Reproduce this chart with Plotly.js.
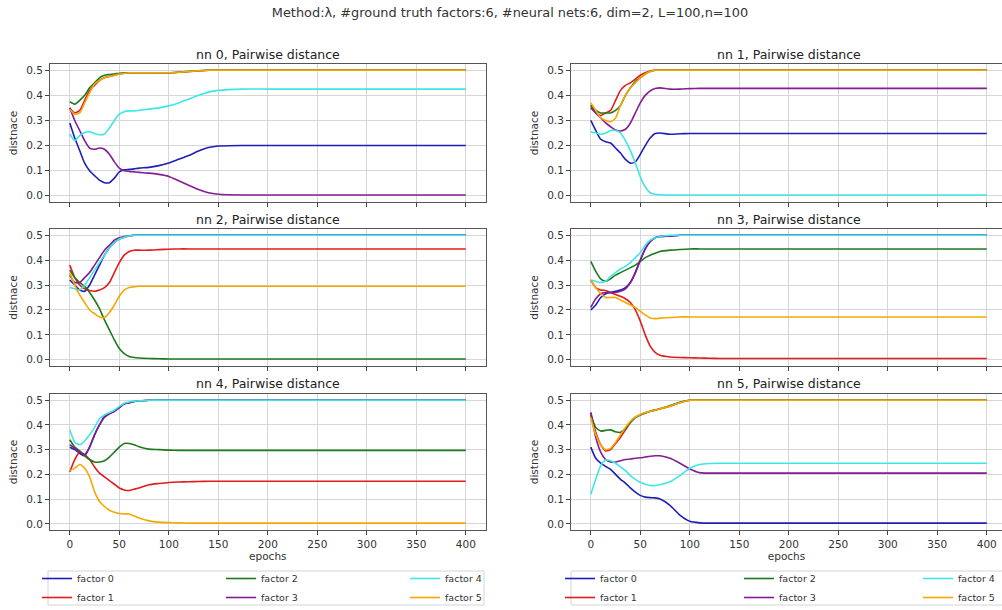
<!DOCTYPE html>
<html>
<head>
<meta charset="utf-8">
<script src="https://cdn.plot.ly/plotly-3.0.1.min.js"></script>
<style>html,body{margin:0;padding:0;background:#fff;}#chart{width:1002px;height:610px;}</style>
</head>
<body>
<div id="chart"></div>
<script>
// ---------- DATA ----------
const epochs = [0,5,10,15,20,25,30,35,40,45,50,55,60,65,70,80,90,100,110,120,130,140,150,175,200,250,300,350,400];
const factorNames = ["factor 0","factor 1","factor 2","factor 3","factor 4","factor 5"];
const subplotTitles = ["nn 0, Pairwise distance","nn 1, Pairwise distance","nn 2, Pairwise distance","nn 3, Pairwise distance","nn 4, Pairwise distance","nn 5, Pairwise distance"];
const mainTitle = "Method:λ, #ground truth factors:6, #neural nets:6, dim=2, L=100,n=100";
const xTickVals = [0,50,100,150,200,250,300,350,400];
const yTickVals = [0,0.1,0.2,0.3,0.4,0.5];

// nn 0
const nn0_factor0 = [0.29,0.23,0.18,0.13,0.10,0.08,0.062,0.052,0.052,0.07,0.095,0.103,0.105,0.107,0.11,0.113,0.12,0.13,0.145,0.16,0.178,0.192,0.198,0.2,0.2,0.2,0.2,0.2,0.2];
const nn0_factor1 = [0.35,0.33,0.34,0.38,0.42,0.44,0.46,0.47,0.475,0.48,0.485,0.488,0.49,0.49,0.49,0.49,0.49,0.49,0.492,0.495,0.498,0.5,0.5,0.5,0.5,0.5,0.5,0.5,0.5];
const nn0_factor2 = [0.375,0.365,0.38,0.40,0.43,0.45,0.47,0.48,0.483,0.485,0.488,0.49,0.49,0.49,0.49,0.49,0.49,0.49,0.492,0.495,0.498,0.5,0.5,0.5,0.5,0.5,0.5,0.5,0.5];
const nn0_factor3 = [0.35,0.30,0.26,0.22,0.19,0.185,0.19,0.185,0.165,0.135,0.11,0.10,0.097,0.095,0.093,0.09,0.085,0.077,0.06,0.042,0.025,0.012,0.006,0.003,0.003,0.003,0.003,0.003,0.003];
const nn0_factor4 = [0.245,0.22,0.24,0.252,0.255,0.248,0.243,0.246,0.27,0.30,0.325,0.335,0.338,0.338,0.34,0.345,0.35,0.358,0.37,0.385,0.40,0.413,0.42,0.425,0.425,0.425,0.425,0.425,0.425];
const nn0_factor5 = [0.345,0.325,0.33,0.37,0.41,0.445,0.46,0.47,0.475,0.48,0.485,0.488,0.49,0.49,0.49,0.49,0.49,0.49,0.492,0.495,0.498,0.5,0.5,0.5,0.5,0.5,0.5,0.5,0.5];
// nn 1
const nn1_factor0 = [0.30,0.26,0.225,0.215,0.21,0.19,0.17,0.145,0.13,0.135,0.165,0.20,0.23,0.248,0.25,0.245,0.247,0.248,0.248,0.248,0.248,0.248,0.248,0.248,0.248,0.248,0.248,0.248,0.248];
const nn1_factor1 = [0.36,0.33,0.32,0.33,0.34,0.38,0.42,0.44,0.45,0.465,0.48,0.49,0.497,0.5,0.5,0.5,0.5,0.5,0.5,0.5,0.5,0.5,0.5,0.5,0.5,0.5,0.5,0.5,0.5];
const nn1_factor2 = [0.36,0.34,0.33,0.33,0.33,0.34,0.36,0.40,0.43,0.455,0.47,0.485,0.495,0.5,0.5,0.5,0.5,0.5,0.5,0.5,0.5,0.5,0.5,0.5,0.5,0.5,0.5,0.5,0.5];
const nn1_factor3 = [0.35,0.33,0.31,0.29,0.275,0.262,0.258,0.265,0.29,0.33,0.37,0.40,0.418,0.427,0.43,0.425,0.425,0.427,0.428,0.428,0.428,0.428,0.428,0.428,0.428,0.428,0.428,0.428,0.428];
const nn1_factor4 = [0.255,0.25,0.245,0.25,0.26,0.26,0.25,0.22,0.18,0.13,0.075,0.035,0.012,0.006,0.004,0.003,0.003,0.003,0.003,0.003,0.003,0.003,0.003,0.003,0.003,0.003,0.003,0.003,0.003];
const nn1_factor5 = [0.37,0.34,0.31,0.30,0.295,0.31,0.36,0.40,0.43,0.45,0.47,0.485,0.495,0.5,0.5,0.5,0.5,0.5,0.5,0.5,0.5,0.5,0.5,0.5,0.5,0.5,0.5,0.5,0.5];
// nn 2
const nn2_factor0 = [0.32,0.30,0.28,0.275,0.30,0.34,0.38,0.42,0.45,0.47,0.485,0.492,0.497,0.5,0.5,0.5,0.5,0.5,0.5,0.5,0.5,0.5,0.5,0.5,0.5,0.5,0.5,0.5,0.5];
const nn2_factor1 = [0.38,0.33,0.30,0.285,0.278,0.275,0.28,0.29,0.31,0.35,0.39,0.42,0.435,0.44,0.44,0.44,0.442,0.444,0.445,0.445,0.445,0.445,0.445,0.445,0.445,0.445,0.445,0.445,0.445];
const nn2_factor2 = [0.36,0.33,0.31,0.295,0.27,0.24,0.205,0.16,0.12,0.08,0.045,0.025,0.013,0.009,0.007,0.005,0.004,0.003,0.003,0.003,0.003,0.003,0.003,0.003,0.003,0.003,0.003,0.003,0.003];
const nn2_factor3 = [0.34,0.31,0.31,0.33,0.35,0.38,0.41,0.44,0.46,0.48,0.49,0.495,0.498,0.5,0.5,0.5,0.5,0.5,0.5,0.5,0.5,0.5,0.5,0.5,0.5,0.5,0.5,0.5,0.5];
const nn2_factor4 = [0.29,0.285,0.28,0.30,0.33,0.36,0.39,0.42,0.45,0.47,0.485,0.492,0.497,0.5,0.5,0.5,0.5,0.5,0.5,0.5,0.5,0.5,0.5,0.5,0.5,0.5,0.5,0.5,0.5];
const nn2_factor5 = [0.35,0.30,0.26,0.23,0.20,0.185,0.172,0.17,0.19,0.22,0.255,0.28,0.29,0.293,0.295,0.295,0.295,0.295,0.295,0.295,0.295,0.295,0.295,0.295,0.295,0.295,0.295,0.295,0.295];
// nn 3
const nn3_factor0 = [0.20,0.22,0.25,0.265,0.27,0.275,0.28,0.29,0.31,0.35,0.40,0.445,0.475,0.49,0.495,0.497,0.5,0.5,0.5,0.5,0.5,0.5,0.5,0.5,0.5,0.5,0.5,0.5,0.5];
const nn3_factor1 = [0.32,0.29,0.28,0.278,0.27,0.262,0.255,0.245,0.23,0.20,0.155,0.10,0.055,0.03,0.018,0.011,0.009,0.008,0.007,0.006,0.005,0.005,0.005,0.005,0.005,0.005,0.005,0.005,0.005];
const nn3_factor2 = [0.395,0.355,0.325,0.315,0.325,0.34,0.35,0.36,0.37,0.38,0.395,0.41,0.42,0.428,0.435,0.44,0.443,0.445,0.445,0.445,0.445,0.445,0.445,0.445,0.445,0.445,0.445,0.445,0.445];
const nn3_factor3 = [0.21,0.245,0.265,0.27,0.27,0.27,0.275,0.285,0.31,0.35,0.40,0.445,0.475,0.49,0.495,0.497,0.5,0.5,0.5,0.5,0.5,0.5,0.5,0.5,0.5,0.5,0.5,0.5,0.5];
const nn3_factor4 = [0.32,0.315,0.31,0.315,0.335,0.35,0.365,0.375,0.39,0.41,0.43,0.46,0.48,0.49,0.495,0.5,0.5,0.5,0.5,0.5,0.5,0.5,0.5,0.5,0.5,0.5,0.5,0.5,0.5];
const nn3_factor5 = [0.32,0.29,0.265,0.25,0.25,0.25,0.24,0.23,0.22,0.21,0.195,0.18,0.168,0.165,0.167,0.17,0.172,0.172,0.172,0.172,0.172,0.172,0.172,0.172,0.172,0.172,0.172,0.172,0.172];
// nn 4
const nn4_factor0 = [0.31,0.30,0.285,0.275,0.31,0.36,0.40,0.435,0.445,0.455,0.47,0.485,0.49,0.495,0.497,0.5,0.5,0.5,0.5,0.5,0.5,0.5,0.5,0.5,0.5,0.5,0.5,0.5,0.5];
const nn4_factor1 = [0.21,0.26,0.29,0.28,0.26,0.23,0.205,0.19,0.175,0.16,0.145,0.137,0.135,0.14,0.145,0.158,0.163,0.167,0.169,0.17,0.171,0.172,0.172,0.172,0.172,0.172,0.172,0.172,0.172];
const nn4_factor2 = [0.34,0.31,0.295,0.275,0.26,0.25,0.25,0.255,0.27,0.29,0.31,0.325,0.325,0.32,0.312,0.302,0.30,0.298,0.297,0.297,0.297,0.297,0.297,0.297,0.297,0.297,0.297,0.297,0.297];
const nn4_factor3 = [0.32,0.305,0.29,0.28,0.31,0.36,0.40,0.43,0.445,0.455,0.47,0.485,0.49,0.495,0.497,0.5,0.5,0.5,0.5,0.5,0.5,0.5,0.5,0.5,0.5,0.5,0.5,0.5,0.5];
const nn4_factor4 = [0.38,0.33,0.32,0.335,0.36,0.39,0.425,0.44,0.45,0.46,0.475,0.488,0.493,0.496,0.497,0.5,0.5,0.5,0.5,0.5,0.5,0.5,0.5,0.5,0.5,0.5,0.5,0.5,0.5];
const nn4_factor5 = [0.215,0.225,0.24,0.225,0.19,0.13,0.09,0.07,0.055,0.047,0.042,0.04,0.04,0.032,0.024,0.012,0.007,0.005,0.004,0.003,0.003,0.003,0.003,0.003,0.003,0.003,0.003,0.003,0.003];
// nn 5
const nn5_factor0 = [0.31,0.265,0.245,0.232,0.22,0.20,0.18,0.165,0.145,0.128,0.115,0.108,0.106,0.105,0.10,0.075,0.035,0.01,0.004,0.003,0.003,0.003,0.003,0.003,0.003,0.003,0.003,0.003,0.003];
const nn5_factor1 = [0.45,0.37,0.32,0.295,0.30,0.325,0.35,0.38,0.41,0.43,0.44,0.448,0.455,0.46,0.465,0.475,0.49,0.5,0.5,0.5,0.5,0.5,0.5,0.5,0.5,0.5,0.5,0.5,0.5];
const nn5_factor2 = [0.44,0.39,0.375,0.378,0.38,0.372,0.37,0.385,0.41,0.43,0.44,0.448,0.455,0.46,0.465,0.478,0.492,0.5,0.5,0.5,0.5,0.5,0.5,0.5,0.5,0.5,0.5,0.5,0.5];
const nn5_factor3 = [0.45,0.35,0.29,0.26,0.25,0.25,0.255,0.26,0.262,0.265,0.267,0.27,0.273,0.275,0.275,0.265,0.245,0.222,0.207,0.205,0.205,0.205,0.205,0.205,0.205,0.205,0.205,0.205,0.205];
const nn5_factor4 = [0.12,0.18,0.235,0.258,0.255,0.245,0.23,0.215,0.195,0.18,0.168,0.16,0.155,0.155,0.158,0.17,0.195,0.225,0.24,0.244,0.245,0.245,0.245,0.245,0.245,0.245,0.245,0.245,0.245];
const nn5_factor5 = [0.43,0.36,0.32,0.30,0.305,0.33,0.36,0.39,0.415,0.432,0.442,0.45,0.455,0.46,0.465,0.476,0.49,0.5,0.5,0.5,0.5,0.5,0.5,0.5,0.5,0.5,0.5,0.5,0.5];

const allSeries = [
  [nn0_factor0,nn0_factor1,nn0_factor2,nn0_factor3,nn0_factor4,nn0_factor5],
  [nn1_factor0,nn1_factor1,nn1_factor2,nn1_factor3,nn1_factor4,nn1_factor5],
  [nn2_factor0,nn2_factor1,nn2_factor2,nn2_factor3,nn2_factor4,nn2_factor5],
  [nn3_factor0,nn3_factor1,nn3_factor2,nn3_factor3,nn3_factor4,nn3_factor5],
  [nn4_factor0,nn4_factor1,nn4_factor2,nn4_factor3,nn4_factor4,nn4_factor5],
  [nn5_factor0,nn5_factor1,nn5_factor2,nn5_factor3,nn5_factor4,nn5_factor5]
];

// ---------- STYLE ----------
const colors = ["#1f1fb8","#e01c1c","#1c7a1c","#841c94","#3ee6e6","#f5a800"];
const FONT = "DejaVu Sans, Verdana, sans-serif";
const W = 1002, H = 610;
const px = v => v / W;
const py = v => (H - v) / H;
const colX = [[px(50), px(485.6)], [px(571), 1.0]];
const colRange = [[-20, 420], [-20, 415.4]];
const rowY = [[py(202), py(64)], [py(366), py(229)], [py(530), py(394)]];
const titleY = [55, 219, 383];
const legendGroups = ["g0","g0","g1","g1","g2","g2"];

const traces = [];
const layout = {
  width: W, height: H,
  margin: {l:0, r:0, t:0, b:0, autoexpand:false},
  paper_bgcolor: "#fff", plot_bgcolor: "#fff",
  font: {family: FONT, size: 10.5, color: "#333"},
  title: {text: mainTitle, x: 510/W, xanchor: "center", y: 1 - 12/H, yanchor: "middle", yref: "container",
          font: {family: FONT, size: 12.9, color: "#333"}},
  annotations: [],
  shapes: [],
  showlegend: true
};

for (let i = 0; i < 6; i++) {
  const row = Math.floor(i / 2), col = i % 2;
  const xa = "xaxis" + (i + 1), ya = "yaxis" + (i + 1);
  const xr = "x" + (i + 1), yr = "y" + (i + 1);
  layout[xa] = {
    domain: colX[col], range: colRange[col], anchor: yr,
    tickvals: xTickVals, ticks: "outside", ticklen: 4, tickcolor: "#444",
    showticklabels: row === 2,
    showgrid: true, gridcolor: "#d6d6d6", gridwidth: 1,
    zeroline: false, showline: true, mirror: true, linecolor: "#555", linewidth: 1,
    tickfont: {family: FONT, size: 10.5, color: "#333"},
    title: row === 2 ? {text: "epochs", font: {family: FONT, size: 10.5, color: "#333"}, standoff: 2} : {text: ""}
  };
  layout[ya] = {
    domain: rowY[row], range: [-0.025, 0.525], anchor: xr,
    tickvals: yTickVals, tickformat: ".1f", ticks: "outside", ticklen: 4, tickcolor: "#444",
    showgrid: true, gridcolor: "#d6d6d6", gridwidth: 1,
    zeroline: false, showline: true, mirror: true, linecolor: "#555", linewidth: 1,
    tickfont: {family: FONT, size: 10.5, color: "#333"},
    title: {text: "distnace", font: {family: FONT, size: 10.5, color: "#333"}, standoff: 6}
  };
  layout.annotations.push({
    text: subplotTitles[i], xref: "paper", yref: "paper",
    x: col === 0 ? px(267.8) : px(789), y: py(titleY[row]),
    xanchor: "center", yanchor: "middle", showarrow: false,
    font: {family: FONT, size: 12.5, color: "#222"}
  });
  for (let f = 0; f < 6; f++) {
    traces.push({
      type: "scatter", mode: "lines", x: epochs, y: allSeries[i][f],
      xaxis: xr, yaxis: yr, name: factorNames[f],
      line: {color: colors[f], width: 1.6, shape: "spline", smoothing: 0.6},
      legend: col === 0 ? "legend" : "legend2",
      legendgroup: legendGroups[f] + "_" + col,
      showlegend: row === 2,
      hoverinfo: "x+y+name"
    });
  }
}

const legendCommon = {
  orientation: "h", traceorder: "grouped", entrywidthmode: "pixels",
  bgcolor: "rgba(0,0,0,0)", borderwidth: 0,
  font: {family: FONT, size: 9.5, color: "#333"},
  xanchor: "left", yanchor: "top", y: py(564), itemclick: false, itemdoubleclick: false
};
layout.legend = Object.assign({}, legendCommon, {x: px(37), entrywidth: 139});
layout.legend2 = Object.assign({}, legendCommon, {x: px(560), entrywidth: 134});

layout.shapes.push({type: "rect", xref: "paper", yref: "paper", x0: px(48), x1: px(484), y0: py(605), y1: py(571),
  line: {color: "#d4d4d4", width: 1}, fillcolor: "rgba(0,0,0,0)", layer: "below"});
layout.shapes.push({type: "rect", xref: "paper", yref: "paper", x0: px(571), x1: px(1010), y0: py(605), y1: py(571),
  line: {color: "#d4d4d4", width: 1}, fillcolor: "rgba(0,0,0,0)", layer: "below"});

Plotly.newPlot("chart", traces, layout, {staticPlot: true, displayModeBar: false});
</script>
</body>
</html>
